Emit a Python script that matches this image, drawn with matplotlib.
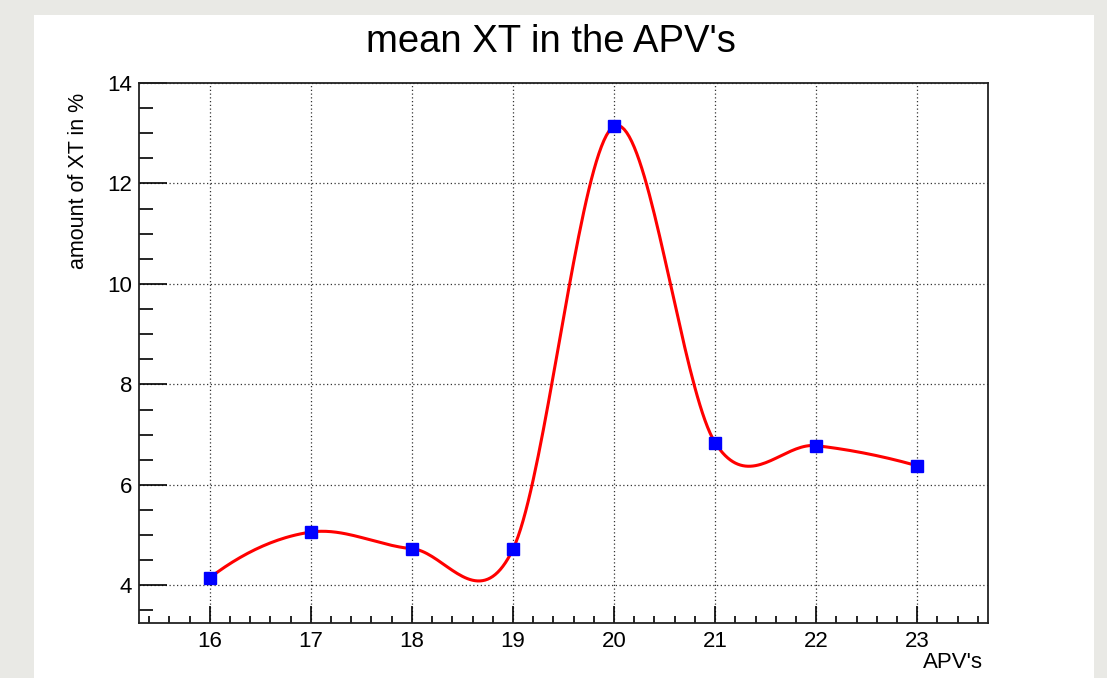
import numpy as np
import matplotlib
matplotlib.use("Agg")
import matplotlib.pyplot as plt
from matplotlib.patches import Rectangle
from matplotlib.ticker import MultipleLocator

# Data ======================================================================= #
apv = [16, 17, 18, 19, 20, 21, 22, 23]
mean_xt = [4.15, 5.06, 4.73, 4.72, 13.14, 6.84, 6.78, 6.38]

title = "mean XT in the APV's"
xlabel = "APV's"
ylabel = "amount of XT in %"


# Catmull-Rom style smooth curve (looks like ROOT's "C" draw option) -------- #
def smooth_curve(x, y, n=40):
    x = np.asarray(x, float)
    y = np.asarray(y, float)
    m = len(x)
    tang = np.zeros(m)
    tang[1:-1] = (y[2:] - y[:-2]) / (x[2:] - x[:-2])
    # free ends: tangent mirrored from the neighbour
    tang[0] = 2 * (y[1] - y[0]) / (x[1] - x[0]) - tang[1]
    tang[-1] = 2 * (y[-1] - y[-2]) / (x[-1] - x[-2]) - tang[-2]
    xs_all, ys_all = [], []
    for i in range(m - 1):
        h = x[i + 1] - x[i]
        t = np.linspace(0, 1, n, endpoint=(i == m - 2))
        h00 = 2 * t**3 - 3 * t**2 + 1
        h10 = t**3 - 2 * t**2 + t
        h01 = -2 * t**3 + 3 * t**2
        h11 = t**3 - t**2
        xs_all.append(x[i] + t * h)
        ys_all.append(h00 * y[i] + h10 * h * tang[i] + h01 * y[i + 1] + h11 * h * tang[i + 1])
    return np.concatenate(xs_all), np.concatenate(ys_all)


plt.rcParams['font.family'] = ['Liberation Sans', 'DejaVu Sans']

fig = plt.figure(figsize=(11.07, 6.78), dpi=100)
fig.patch.set_facecolor("#e9e9e5")
# white canvas --------------------------------------------------------------- #
fig.patches.append(Rectangle((34 / 1107, 0), (1094 - 34) / 1107, (678 - 15) / 678,
                             transform=fig.transFigure, facecolor="white",
                             edgecolor="none", zorder=-10))

ax = fig.add_axes([139 / 1107, 55 / 678, (988 - 139) / 1107, (623 - 83) / 678])
ax.set_facecolor("white")

xs, ys = smooth_curve(apv, mean_xt)
ax.plot(xs, ys, color="red", lw=2.2, zorder=3)
ax.plot(apv, mean_xt, ls="none", marker="s", ms=9, color="blue", zorder=4)

ax.set_xlim(15.3, 23.7)
ax.set_ylim(3.25, 14.0)
ax.xaxis.set_major_locator(MultipleLocator(1))
ax.xaxis.set_minor_locator(MultipleLocator(0.2))
ax.yaxis.set_major_locator(MultipleLocator(2))
ax.yaxis.set_minor_locator(MultipleLocator(0.5))

ax.grid(True, which="major", ls=(0, (1, 2)), color="#333333", lw=0.9)
ax.tick_params(axis="x", which="major", direction="in", length=12, width=1.2,
               pad=6, labelsize=16, top=False)
ax.tick_params(axis="x", which="minor", direction="in", length=5, width=1.2, top=False)
ax.tick_params(axis="y", which="major", direction="in", length=20, width=1.2,
               pad=5, labelsize=16, right=False)
ax.tick_params(axis="y", which="minor", direction="in", length=10, width=1.2, right=False)
for s in ax.spines.values():
    s.set_linewidth(1.3)
    s.set_color("#222222")

fig.text(551 / 1107, 1 - 42 / 678, title, ha="center", va="center", fontsize=27.5)
fig.text(79 / 1107, 1 - 93 / 678, ylabel, ha="center", va="top", rotation=90, fontsize=15.5)
fig.text(983 / 1107, 1 - 662 / 678, xlabel, ha="right", va="center", fontsize=16)

fig.savefig("out.png", dpi=100, facecolor=fig.get_facecolor())
